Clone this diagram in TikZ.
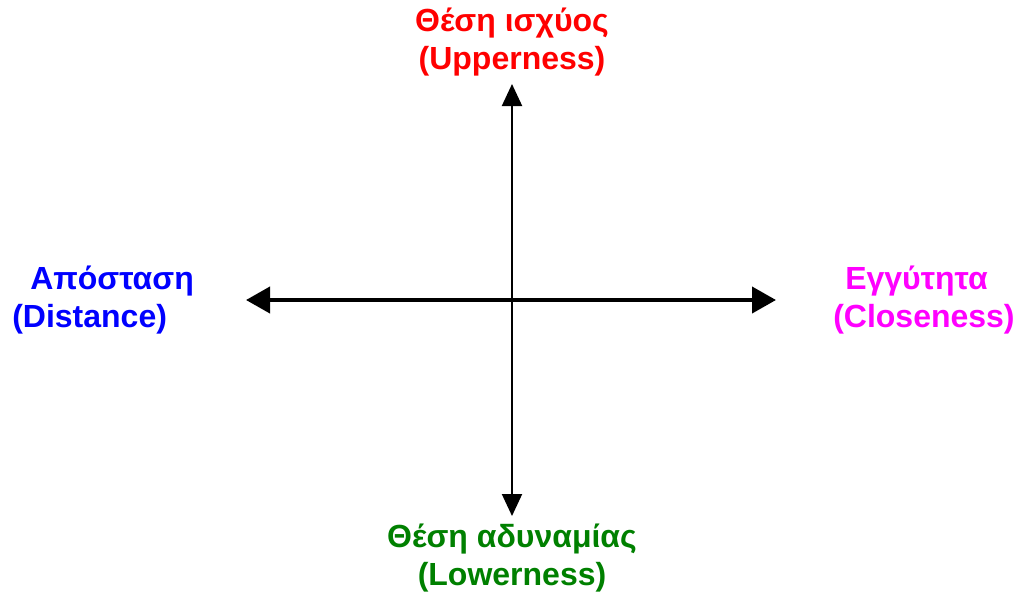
\documentclass[tikz,border=0pt]{standalone}
\usepackage{fontspec}
\setmainfont{Liberation Sans}
\usepackage{tikz}
\usetikzlibrary{positioning,arrows.meta}
\usepackage{xcolor}
\definecolor{upperred}{RGB}{255,0,0}
\definecolor{distblue}{RGB}{0,0,255}
\definecolor{closemagenta}{RGB}{255,0,255}
\definecolor{lowergreen}{RGB}{0,128,0}

\begin{document}
\begin{tikzpicture}[
    x=0.75pt, y=-0.75pt,
    axistext/.style={font=\fontsize{24}{28}\selectfont\bfseries, inner sep=0pt},
    vaxis/.style={draw=black, line width=1.5pt, {Triangle[length=16.5pt, width=15pt]}-{Triangle[length=16.5pt, width=15pt]}},
    haxis/.style={draw=black, line width=3pt, {Triangle[length=18pt, width=19.5pt]}-{Triangle[length=18pt, width=19.5pt]}}
]
    \useasboundingbox (0,0) rectangle (1020,594);

    % axis ends
    \coordinate (top) at (512,84);
    \coordinate (bottom) at (512,516);
    \coordinate (left) at (246,300);
    \coordinate (right) at (776,300);

    \path [vaxis] (bottom) -- (top);
    \path [haxis] (left) -- (right);

    % labels
    \node [axistext, text=upperred, align=center] (upper) at (512,42) {Θέση ισχύος\\(Upperness)};
    \node [axistext, text=lowergreen, align=center] (lower) at (512,558) {Θέση αδυναμίας\\(Lowerness)};
    \node [axistext, text=distblue, align=left, anchor=west] (dist) at (12,300) {\hspace*{13.5pt}Απόσταση\\(Distance)};
    \node [axistext, text=closemagenta, align=left, anchor=west] (close) at (833,300) {\hspace*{9pt}Εγγύτητα\\(Closeness)};
\end{tikzpicture}
\end{document}
